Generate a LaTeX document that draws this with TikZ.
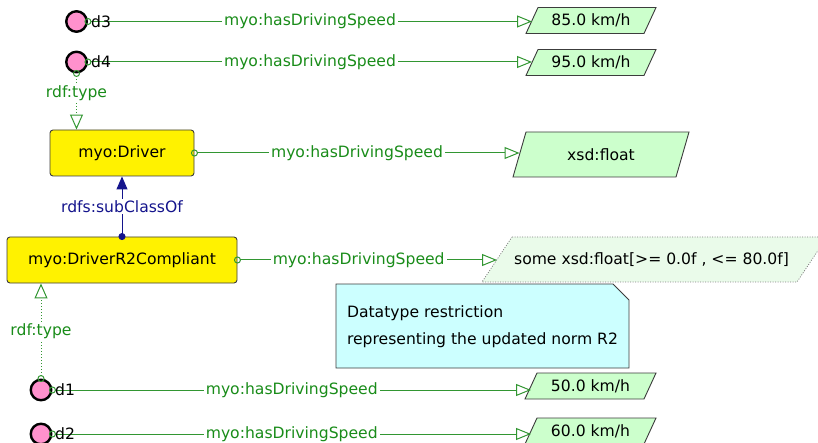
\documentclass[tikz,border=0pt]{standalone}
\usepackage{fontspec}
\setmainfont{DejaVu Sans}
\usetikzlibrary{arrows.meta,calc,backgrounds}
\definecolor{propgreen}{RGB}{25,140,25}
\definecolor{linegreen}{RGB}{50,150,50}
\definecolor{subnavy}{RGB}{20,20,140}
\definecolor{indpink}{RGB}{255,145,205}
\definecolor{valgreen}{RGB}{204,255,204}
\definecolor{restrgreen}{RGB}{234,251,234}
\definecolor{notecyan}{RGB}{204,255,255}
\definecolor{edgegray}{RGB}{60,60,60}
% parallelogram outline around a rectangular node: style, node name, half slant
\newcommand{\pgramdraw}[3]{%
  \path[#1] ($(#2.north west)+(#3,0)$) -- ($(#2.north east)+(#3,0)$)
    -- ($(#2.south east)+(-#3,0)$) -- ($(#2.south west)+(-#3,0)$) -- cycle;}
\begin{document}
\begin{tikzpicture}[x=1pt,y=-1pt,
  font=\fontsize{15.6}{19}\selectfont,
  indiv/.style={circle, draw=black, line width=2.4pt, fill=indpink, minimum size=20.5pt, inner sep=0pt},
  indlabel/.style={anchor=west, inner sep=0pt, text=black},
  classbox/.style={rectangle, rounded corners=3pt, draw=edgegray, line width=0.9pt, fill=yellow, inner sep=0pt},
  valbox/.style={rectangle, inner sep=0pt, outer sep=0pt, text=black},
  valshape/.style={draw=edgegray, line width=0.9pt, fill=valgreen},
  restrshape/.style={draw=gray, dash pattern=on 1pt off 1.5pt, line width=0.8pt, fill=restrgreen},
  prop/.style={draw=linegreen, line width=1pt, shorten <=-3.5pt,
    {Circle[open,length=7pt,width=7pt]}-{Triangle[open,length=15pt,width=12pt]}},
  proplabel/.style={fill=white, text=propgreen, inner xsep=2pt, inner ysep=1pt},
  typelink/.style={draw=linegreen, line width=1pt, dash pattern=on 1pt off 2pt, shorten <=-3.5pt,
    {Circle[open,length=7pt,width=7pt]}-{Triangle[open,length=15pt,width=13pt]}},
  subcls/.style={draw=subnavy, line width=1pt, shorten <=-3.5pt,
    {Circle[length=7pt,width=7pt]}-{Triangle[length=13pt,width=11pt]}},
  sublabel/.style={fill=white, text=subnavy, inner xsep=2pt, inner ysep=1pt},
  notetext/.style={align=left, inner sep=0pt, text=black, font=\fontsize{15.6}{27}\selectfont}
]
\useasboundingbox (0,0) rectangle (818,443);

% individuals
\node[indiv] (d3) at (76.5,21.5) {};
\node[indiv] (d4) at (76.5,62) {};
\node[indiv] (d1) at (41,390) {};
\node[indiv] (d2) at (41,434) {};

% classes
\node[classbox, minimum width=144pt, minimum height=46pt] (drv) at (122,153) {myo:Driver};
\node[classbox, minimum width=230pt, minimum height=46pt] (dr2) at (122,260) {myo:DriverR2Compliant};

% values (rectangular cores; parallelogram outlines drawn on background)
\node[valbox, minimum width=118pt, minimum height=26pt] (v3) at (591,20.5) {85.0 km/h};
\node[valbox, minimum width=118pt, minimum height=26pt] (v4) at (591,62.5) {95.0 km/h};
\node[valbox, minimum width=119pt, minimum height=26pt] (v1) at (590.5,386) {50.0 km/h};
\node[valbox, minimum width=119pt, minimum height=26pt] (v2) at (590.5,431) {60.0 km/h};
\node[valbox, minimum width=163pt, minimum height=45pt] (vf) at (601,154.5) {xsd:float};
\node[valbox, minimum width=315pt, minimum height=45pt] (vr) at (654.5,259.5) {\hspace*{-6pt}some xsd:float[>= 0.0f , <= 80.0f]};

% note
\node[notetext] (note) at (482.5,326.5) {Datatype restriction\\representing the updated norm R2};

\begin{scope}[on background layer]
  \pgramdraw{valshape}{v3}{6}
  \pgramdraw{valshape}{v4}{6}
  \pgramdraw{valshape}{v1}{6}
  \pgramdraw{valshape}{v2}{6}
  \pgramdraw{valshape}{vf}{6.5}
  \pgramdraw{restrshape}{vr}{15}
  \coordinate (nnw) at (336,284);
  \coordinate (nse) at (629,368);
  \draw[edgegray, line width=0.9pt, fill=notecyan]
    (nnw) -- ($(nnw -| nse)+(-16,0)$) -- ($(nnw -| nse)+(0,16)$) -- (nse) -- (nse -| nnw) -- cycle;
\end{scope}

% property connectors
\draw[prop] (d3.east) -- (d3.east -| v3.west) node[midway, proplabel] {myo:hasDrivingSpeed};
\draw[prop] (d4.east) -- (d4.east -| v4.west) node[midway, proplabel] {myo:hasDrivingSpeed};
\draw[prop] (d1.east) -- (d1.east -| v1.west) node[midway, proplabel] {myo:hasDrivingSpeed};
\draw[prop] (d2.east) -- (d2.east -| v2.west) node[midway, proplabel] {myo:hasDrivingSpeed};
\draw[prop] (drv.east) -- (drv.east -| vf.west) node[midway, proplabel] {myo:hasDrivingSpeed};
\draw[prop] (dr2.east) -- (dr2.east -| vr.west) node[pos=0.467, proplabel] {myo:hasDrivingSpeed};

% type links
\draw[typelink] (d4.south) -- (d4.south |- drv.north) node[pos=0.36, proplabel] {rdf:type};
\draw[typelink] (d1.north) -- (d1.north |- dr2.south) node[midway, proplabel] {rdf:type};

% subclass
\draw[subcls] (dr2.north) -- (drv.south) node[midway, sublabel] {rdfs:subClassOf};

% individual labels
\node[indlabel] (d3l) at (91,21.5) {d3};
\node[indlabel] (d4l) at (91,62) {d4};
\node[indlabel] (d1l) at (55,390) {d1};
\node[indlabel] (d2l) at (55,434) {d2};
\end{tikzpicture}
\end{document}
